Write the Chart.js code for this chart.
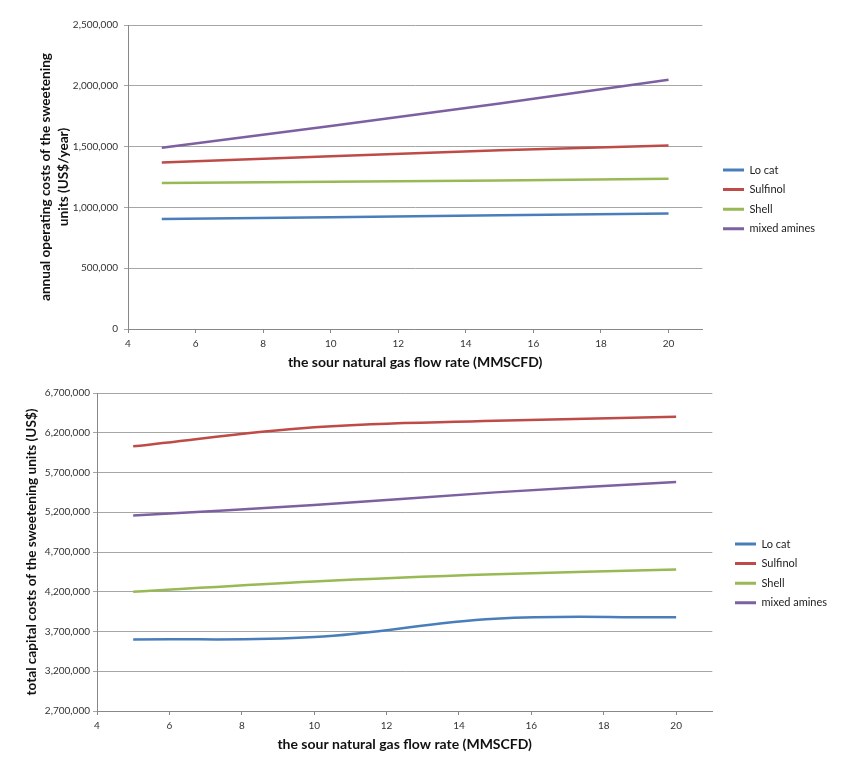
<!DOCTYPE html>
<html>
<head>
<meta charset="utf-8" />
<script src="https://cdn.jsdelivr.net/npm/chart.js"></script>
<style>
  body { margin: 0; background: #fff; }
  .box { position: absolute; left: 0; }
</style>
</head>
<body>
<div class="box" style="top:0"><canvas id="opChart" width="845" height="380"></canvas></div>
<div class="box" style="top:380px"><canvas id="capChart" width="845" height="377"></canvas></div>

<script>
// sour gas flow rate (MMSCFD)
const flowRates = [5, 10, 15, 20];
const seriesNames = ["Lo cat", "Sulfinol", "Shell", "mixed amines"];
const seriesColors = ["#4a7ebb", "#be4b48", "#98b954", "#7d60a0"];

// annual operating costs (US$/year)
const opLoCat = [905000, 920000, 935000, 950000];
const opSulfinol = [1370000, 1420000, 1470000, 1510000];
const opShell = [1200000, 1210000, 1222000, 1235000];
const opMixedAmines = [1490000, 1670000, 1855000, 2050000];

// total capital costs (US$)
const capLoCat = [3600000, 3630000, 3860000, 3880000];
const capSulfinol = [6030000, 6270000, 6350000, 6400000];
const capShell = [4200000, 4330000, 4420000, 4480000];
const capMixedAmines = [5160000, 5290000, 5450000, 5580000];

const xTitle = "the sour natural gas flow rate (MMSCFD)";
const opTitle = ["annual operating costs of the sweetening", "units (US$/year)"];
const capTitle = "total capital costs of the sweetening units (US$)";

// puts the legend block where the original had it
const legendPlace = {
  id: "legendPlace",
  afterLayout(chart, args, opts) {
    const lg = chart.legend;
    const pad = chart.options.plugins.legend.labels.padding;
    lg.left = opts.x - pad;
    lg.right = lg.left + lg.width;
    lg.top = opts.y - pad;
    lg.bottom = lg.top + lg.height;
  },
};

function buildChart(id, cfg) {
  return new Chart(document.getElementById(id), {
    type: "line",
    data: {
      datasets: cfg.series.map((vals, i) => ({
        label: seriesNames[i],
        data: flowRates.map((x, j) => ({ x: x, y: vals[j] })),
        borderColor: seriesColors[i],
        backgroundColor: seriesColors[i],
        borderWidth: 2.5,
        pointRadius: 0,
        tension: cfg.tension,
        fill: false,
      })),
    },
    options: {
      responsive: false,
      animation: false,
      layout: { padding: cfg.padding },
      plugins: {
        tooltip: { enabled: false },
        legend: {
          position: "right",
          align: "start",
          labels: {
            boxWidth: 21,
            boxHeight: 3,
            padding: 8.6,
            color: "#222",
            font: { family: "Lato", size: 11 },
            generateLabels(chart) {
              return Chart.defaults.plugins.legend.labels
                .generateLabels(chart)
                .map((l) => Object.assign(l, { lineWidth: 0 }));
            },
          },
        },
        legendPlace: cfg.legend,
      },
      scales: {
        x: {
          type: "linear",
          min: 4,
          max: 21,
          ticks: {
            stepSize: 2,
            includeBounds: false,
            padding: 5,
            color: "#333",
            font: { family: "Lato", size: 10 },
          },
          grid: { drawOnChartArea: false, tickLength: 4, color: "#888" },
          border: { color: "#888" },
          title: {
            display: true,
            text: xTitle,
            color: "#111",
            font: { family: "Lato", size: 14, weight: "bold", lineHeight: 1.3 },
            padding: { top: 0, bottom: cfg.xTitlePad },
          },
          afterFit(scale) {
            scale.height = cfg.xHeight;
          },
        },
        y: {
          min: cfg.yMin,
          max: cfg.yMax,
          ticks: {
            stepSize: 500000,
            padding: cfg.yTickPad,
            color: "#333",
            font: { family: "Lato", size: 10 },
            callback: (v) => v.toLocaleString("en-US"),
          },
          grid: { color: "#a6a6a6", tickLength: 4 },
          border: { color: "#888" },
          title: {
            display: true,
            text: cfg.yTitle,
            color: "#111",
            font: { family: "Lato", size: cfg.yTitleSize, weight: "bold", lineHeight: 1.3 },
            padding: { top: cfg.yTitlePad, bottom: 0 },
          },
          afterFit(scale) {
            scale.width = cfg.yWidth;
          },
        },
      },
    },
    plugins: [legendPlace],
  });
}

buildChart("opChart", {
  series: [opLoCat, opSulfinol, opShell, opMixedAmines],
  tension: 0,
  yMin: 0,
  yMax: 2500000,
  yTitle: opTitle,
  yTitleSize: 13.6,
  yTitlePad: 37,
  yTickPad: 6,
  yWidth: 128,
  xHeight: 51,
  xTitlePad: 8,
  padding: { left: 0, top: 25, right: 32, bottom: 0 },
  legend: { x: 723, y: 164.5 },
});

buildChart("capChart", {
  series: [capLoCat, capSulfinol, capShell, capMixedAmines],
  tension: 0.4,
  yMin: 2700000,
  yMax: 6700000,
  yTitle: capTitle,
  yTitleSize: 13.6,
  yTitlePad: 23,
  yTickPad: 3,
  yWidth: 97,
  xHeight: 46,
  xTitlePad: 3,
  padding: { left: 0, top: 13, right: 22, bottom: 0 },
  legend: { x: 735, y: 158.5 },
});
</script>
</body>
</html>
